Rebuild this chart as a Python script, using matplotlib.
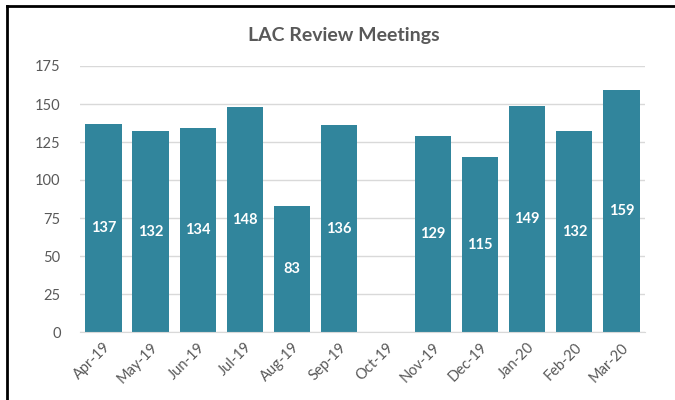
import numpy as np
import matplotlib.pyplot as plt
from matplotlib.lines import Line2D

months = ["Apr-19", "May-19", "Jun-19", "Jul-19", "Aug-19", "Sep-19",
          "Oct-19", "Nov-19", "Dec-19", "Jan-20", "Feb-20", "Mar-20"]
meetings = [137, 132, 134, 148, 83, 136, np.nan, 129, 115, 149, 132, 159]
yticks = [0, 25, 50, 75, 100, 125, 150, 175]

plt.rcParams['font.family'] = ['Lato', 'DejaVu Sans']
grey = '#595959'
teal = '#31859C'

fig = plt.figure(figsize=(6.75, 4), dpi=100)
ax = fig.add_axes([0.1185, 0.17, 0.837, 0.665])

x = np.arange(len(months))
vals = np.nan_to_num(np.array(meetings, dtype=float))
bars = ax.bar(x, vals, width=0.77, color=teal, zorder=3)

for xi, v in zip(x, meetings):
    if not np.isnan(v):
        ax.text(xi, v / 2, f"{v:.0f}", ha='center', va='center',
                color='white', fontsize=10.5, fontweight='bold', zorder=4)

ax.set_ylim(0, 175)
ax.set_xlim(-0.5, len(months) - 0.5)
ax.set_yticks(yticks)
ax.set_xticks(x)
ax.set_xticklabels(months, rotation=45, ha='right', rotation_mode='anchor')
ax.tick_params(axis='both', length=0, colors=grey, labelsize=10.5)
ax.tick_params(axis='y', pad=14)
ax.tick_params(axis='x', pad=6)
ax.grid(axis='y', color='#D9D9D9', linewidth=1, zorder=0)
for s in ['top', 'right', 'left']:
    ax.spines[s].set_visible(False)
ax.spines['bottom'].set_color('#D9D9D9')
ax.spines['bottom'].set_zorder(5)

fig.text(0.51, 0.912, "LAC Review Meetings", ha='center', va='center',
         fontsize=14, fontweight='bold', color=grey)

# frame around chart (top and left edges)
fig.add_artist(Line2D([0.0104, 1.0], [0.985, 0.985], color='black', lw=2,
                      transform=fig.transFigure))
fig.add_artist(Line2D([0.0104, 0.0104], [0.0, 0.985], color='black', lw=2,
                      transform=fig.transFigure))

fig.savefig("out.png", dpi=100)
